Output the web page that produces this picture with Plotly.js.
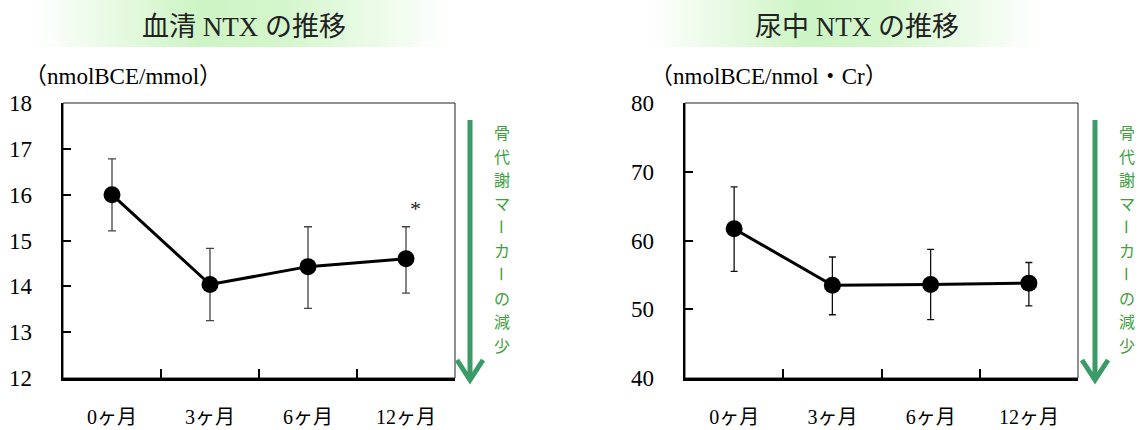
<!DOCTYPE html>
<html>
<head>
<meta charset="utf-8">
<script src="https://cdn.plot.ly/plotly-3.0.1.min.js"></script>
<style>html,body{margin:0;padding:0;background:#fff;}#chart{width:1143px;height:430px;}</style>
</head>
<body>
<div id="chart"></div>
<script>
// ---- data ----
const categories = ['0ヶ月', '3ヶ月', '6ヶ月', '12ヶ月'];
const serumMean = [16.0, 14.04, 14.43, 14.60];
const serumErrPlus = [0.78, 0.79, 0.87, 0.70];
const serumErrMinus = [0.79, 0.79, 0.91, 0.75];
const urineMean = [61.7, 53.5, 53.6, 53.8];
const urineErrPlus = [6.1, 4.1, 5.1, 3.0];
const urineErrMinus = [6.2, 4.3, 5.1, 3.3];
const serumTicks = [12, 13, 14, 15, 16, 17, 18];
const urineTicks = [40, 50, 60, 70, 80];
const titles = ['血清 NTX の推移', '尿中 NTX の推移'];
const units = ['（nmolBCE/mmol）', '（nmolBCE/nmol・Cr）'];
const sideText = '骨代謝マーカーの減少';
const starLabel = '*';

// ---- layout helpers ----
const W = 1143, H = 430;
const px = x => x / W;
const py = y => 1 - y / H;
const FONT = "'Liberation Serif', 'Times New Roman', 'Noto Sans CJK JP', serif";
const CJK = "'Noto Sans CJK JP', sans-serif";
const GREEN_ARROW = '#3a9b69';
const GREEN_TEXT = '#3f9e3f';

function trace(y, plus, minus, xa, ya, cap, ecol) {
  return {
    type: 'scatter', mode: 'lines+markers',
    x: categories, y: y, xaxis: xa, yaxis: ya,
    line: {color: '#000', width: 3},
    marker: {color: '#000', size: 17},
    error_y: {type: 'data', symmetric: false, array: plus, arrayminus: minus,
              color: ecol, thickness: 1.3, width: cap},
    showlegend: false, hoverinfo: 'skip'
  };
}

function xAxis(domain, anchor) {
  return {
    domain: domain, anchor: anchor, type: 'category', range: [-0.5, 3.5],
    tickson: 'boundaries', ticks: 'inside', ticklen: 9, tickwidth: 2, tickcolor: '#000',
    showline: true, linewidth: 2.5, linecolor: '#000', showgrid: false, zeroline: false,
    tickfont: {family: FONT, size: 20, color: '#000'}, ticklabelstandoff: 19,
    fixedrange: true
  };
}
function yAxis(domain, anchor, range, ticks) {
  return {
    domain: domain, anchor: anchor, range: range, tickvals: ticks,
    ticks: 'inside', ticklen: 8, tickwidth: 2, tickcolor: '#000',
    showline: true, linewidth: 2.5, linecolor: '#000', showgrid: false, zeroline: false,
    tickfont: {family: FONT, size: 23, color: '#000'}, ticklabelstandoff: 24,
    fixedrange: true
  };
}

const yDom = [py(378), py(103)];
const layout = {
  width: W, height: H,
  margin: {l: 0, r: 0, t: 0, b: 0, pad: 0},
  paper_bgcolor: '#fff', plot_bgcolor: 'rgba(0,0,0,0)',
  xaxis: xAxis([px(63), px(455)], 'y'),
  yaxis: yAxis(yDom, 'x', [12, 18], serumTicks),
  xaxis2: xAxis([px(685), px(1078)], 'y2'),
  yaxis2: yAxis(yDom, 'x2', [40, 80], urineTicks),
  shapes: [],
  annotations: [],
  images: []
};

// gradient title bands
function bandSrc() {
  const svg = "<svg xmlns='http://www.w3.org/2000/svg' width='400' height='50' preserveAspectRatio='none'>" +
    "<defs><linearGradient id='g' x1='0' x2='1' y1='0' y2='0'>" +
    "<stop offset='0' stop-color='#ffffff'/><stop offset='0.4' stop-color='#cdf4c4'/>" +
    "<stop offset='0.6' stop-color='#d4f6cc'/><stop offset='1' stop-color='#ffffff'/></linearGradient></defs>" +
    "<rect width='400' height='50' fill='url(#g)'/></svg>";
  return 'data:image/svg+xml;charset=utf-8,' + encodeURIComponent(svg);
}
[[35, 450], [650, 1040]].forEach(b => {
  layout.images.push({source: bandSrc(), xref: 'paper', yref: 'paper',
    x: px(b[0]), y: py(0), sizex: px(b[1]) - px(b[0]), sizey: py(0) - py(47),
    sizing: 'stretch', xanchor: 'left', yanchor: 'top', layer: 'below'});
});

// frames (thin top/right)
['', '2'].forEach(s => {
  layout.shapes.push({type: 'rect', xref: 'x' + s + ' domain', yref: 'y' + s + ' domain',
    x0: 0, x1: 1, y0: 0, y1: 1, line: {color: '#222', width: 1}, layer: 'below'});
});

// titles and units
[[244, titles[0]], [857, titles[1]]].forEach(t => {
  layout.annotations.push({xref: 'paper', yref: 'paper', x: px(t[0]), y: py(27),
    xanchor: 'center', yanchor: 'middle', text: t[1], showarrow: false,
    font: {family: FONT, size: 27, color: '#222'}});
});
[[22, units[0]], [648, units[1]]].forEach(t => {
  layout.annotations.push({xref: 'paper', yref: 'paper', x: px(t[0]), y: py(77),
    xanchor: 'left', yanchor: 'middle', text: t[1], showarrow: false,
    font: {family: FONT, size: 23, color: '#000'}});
});

// green arrows and vertical text
[[470, 502], [1095, 1127]].forEach(a => {
  const ax = a[0];
  layout.shapes.push({type: 'line', xref: 'paper', yref: 'paper',
    x0: px(ax), x1: px(ax), y0: py(120), y1: py(378), line: {color: GREEN_ARROW, width: 5}});
  layout.shapes.push({type: 'path', xref: 'paper', yref: 'paper',
    path: 'M ' + px(ax - 13) + ',' + py(360) + ' L ' + px(ax) + ',' + py(380) + ' L ' + px(ax + 13) + ',' + py(360),
    line: {color: GREEN_ARROW, width: 5}});
  const chars = Array.from(sideText);
  chars.forEach((c, i) => {
    layout.annotations.push({xref: 'paper', yref: 'paper', x: px(a[1]),
      y: py(132 + i * (345 - 132) / (chars.length - 1)), xanchor: 'center', yanchor: 'middle',
      text: c, showarrow: false, textangle: c === 'ー' ? 90 : 0, borderpad: 0,
      font: {family: CJK, size: 16, color: GREEN_TEXT}});
  });
});

// significance mark
layout.annotations.push({xref: 'x', yref: 'y', x: categories[3],
  y: serumMean[3] + serumErrPlus[3], yshift: 18, xshift: 9, text: starLabel, showarrow: false,
  font: {family: FONT, size: 22, color: '#222'}});

const data = [
  trace(serumMean, serumErrPlus, serumErrMinus, 'x', 'y', 4, '#444'),
  trace(urineMean, urineErrPlus, urineErrMinus, 'x2', 'y2', 3.5, '#111')
];

Plotly.newPlot('chart', data, layout, {staticPlot: true, displayModeBar: false});
</script>
</body>
</html>
